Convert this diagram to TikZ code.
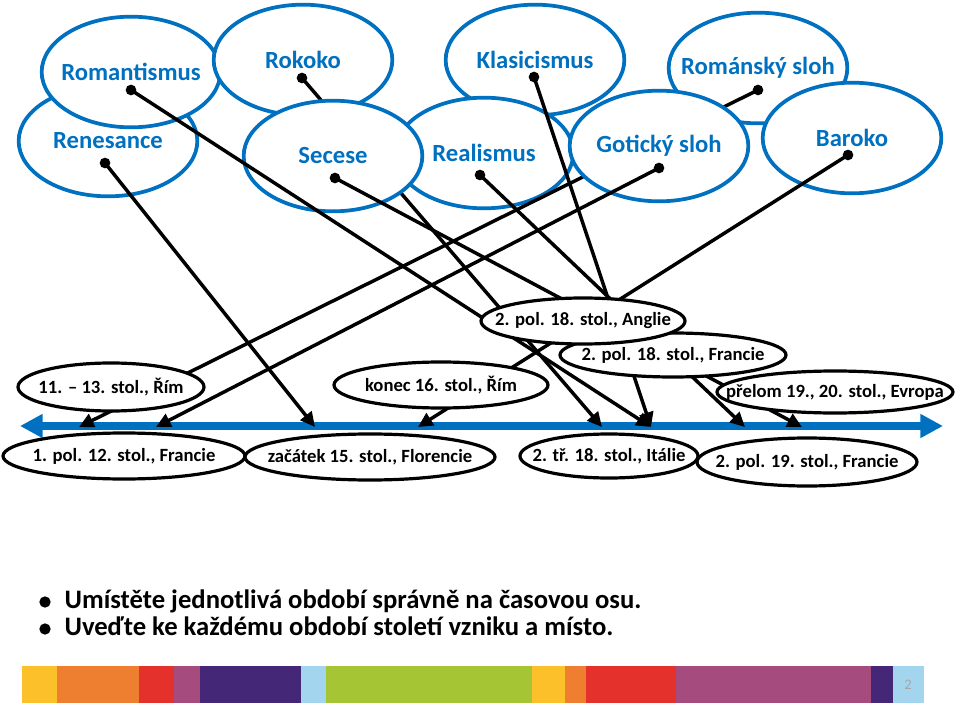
\documentclass[tikz,border=0pt]{standalone}
\usepackage{fontspec}
\setmainfont{Carlito}
\usetikzlibrary{shapes.geometric,arrows.meta}

\definecolor{osablue}{HTML}{0070C0}
\definecolor{barYellow}{HTML}{FBC02A}
\definecolor{barOrange}{HTML}{EE7F30}
\definecolor{barRed}{HTML}{E4312B}
\definecolor{barMauve}{HTML}{A64B7E}
\definecolor{barPurple}{HTML}{452778}
\definecolor{barSky}{HTML}{A3D5EF}
\definecolor{barGreen}{HTML}{A5C535}

\begin{document}
\begin{tikzpicture}[x=0.75pt,y=-0.75pt,
  era/.style={ellipse, draw=osablue, line width=2.8pt, fill=white, text=osablue,
    font=\bfseries\fontsize{18.5}{22}\selectfont, inner xsep=-30pt, inner ysep=-12pt,
    minimum width=134pt, minimum height=83pt},
  date/.style={ellipse, draw=black, line width=2.4pt, fill=white,
    font=\bfseries\fontsize{14}{16}\selectfont, inner xsep=-30pt, inner ysep=-12pt},
  knob/.style={circle, fill=black, inner sep=0pt, minimum size=8pt},
  bullet/.style={circle, fill=black, inner sep=0pt, minimum size=8.5pt},
  link/.style={line width=2.6pt, -{Triangle[length=11pt,width=10.5pt]}},
  timeline/.style={line width=6pt, draw=osablue,
    {Triangle[length=17pt,width=17pt]}-{Triangle[length=17pt,width=17pt]}}]
\useasboundingbox (0,0) rectangle (960,709);

% time axis
\coordinate (tl) at (20,426);
\coordinate (tr) at (943,426);
\coordinate (t1) at (79,427);
\coordinate (t2) at (156,427);
\coordinate (t3) at (315,427);
\coordinate (t4) at (418,427);
\coordinate (t5) at (602,427);
\coordinate (t6) at (651,427);
\coordinate (t7) at (745,427);
\coordinate (t8) at (802,427);
\draw[timeline] (tl) -- (tr);

% styles of art
\node[era] (ren) at (108,141) {Renesance};
\node[era] (rom) at (131,72) {Romantismus};
\node[era] (rok) at (303,60) {Rokoko};
\node[knob] (rokD) at (302,78) {};
\draw[link] (rokD.center) -- (t5);
\node[era] (kla) at (535,60) {Klasicismus};
\node[era] (rea) at (484,153) {Realismus};
\node[era] (sec) at (333,156) {Secese};
\node[era] (rsl) at (758,68) {Románský sloh};
\node[knob] (rslD) at (758,90) {};
\draw[link] (rslD.center) -- (t1);
\node[era] (got) at (659,146) {Gotický sloh};
\node[era] (bar) at (852,138) {Baroko};

\node[knob] (renD) at (105,163) {};
\node[knob] (romD) at (131,90) {};
\node[knob] (secD) at (335,178) {};
\node[knob] (reaD) at (480,175) {};
\node[knob] (klaD) at (534,77) {};
\node[knob] (gotD) at (659,168) {};
\node[knob] (barD) at (848,155) {};
\draw[link] (renD.center) -- (t3);
\draw[link] (romD.center) -- (t6);
\draw[link] (secD.center) -- (t8);
\draw[link] (reaD.center) -- (t7);
\draw[link] (klaD.center) -- (t6);
\draw[link] (gotD.center) -- (t2);
\draw[link] (barD.center) -- (t4);

% dates and places
\node[date, minimum width=139.5pt, minimum height=36pt] (d1) at (111,387) {11. – 13. stol., Řím};
\node[date, minimum width=181.5pt, minimum height=34.5pt] (d2) at (124,456) {1. pol. 12. stol., Francie};
\node[date, minimum width=187.5pt, minimum height=34.5pt] (d3) at (370,457) {začátek 15. stol., Florencie};
\node[date, minimum width=160.5pt, minimum height=34.5pt] (d4) at (441,385) {konec 16. stol., Řím};
\node[date, minimum width=169.5pt, minimum height=33pt] (d6) at (673,355) {2. pol. 18. stol., Francie};
\node[date, minimum width=153pt, minimum height=34.5pt] (d5) at (583,321) {2. pol. 18. stol., Anglie};
\node[date, minimum width=177pt, minimum height=31.5pt] (d7) at (835,392) {přelom 19., 20. stol., Evropa};
\node[date, minimum width=133.5pt, minimum height=33pt] (d8) at (609,456) {2. tř. 18. stol., Itálie};
\node[date, minimum width=165pt, minimum height=36pt] (d9) at (807,462) {2. pol. 19. stol., Francie};

% task
\node[bullet] (b1) at (45,602) {};
\node[anchor=base west, font=\bfseries\fontsize{20}{24}\selectfont] (q1) at (60,608) {Umístěte jednotlivá období správně na časovou osu.};
\node[bullet] (b2) at (45,629) {};
\node[anchor=base west, font=\bfseries\fontsize{20}{24}\selectfont] (q2) at (60,635) {Uveďte ke každému období století vzniku a místo.};

% colour strip
\foreach \xa/\xb/\col in {22/57/barYellow, 57/139/barOrange, 139/174/barRed,
  174/200/barMauve, 200/301/barPurple, 301/326/barSky, 326/532/barGreen,
  532/565/barYellow, 565/586/barOrange, 586/676/barRed, 676/871/barMauve,
  871/893/barPurple, 893/924/barSky}
  \fill[\col] (\xa,666) rectangle (\xb,703);
\node[text=gray!70, font=\fontsize{11}{13}\selectfont] (pg) at (908,685) {2};
\end{tikzpicture}
\end{document}
